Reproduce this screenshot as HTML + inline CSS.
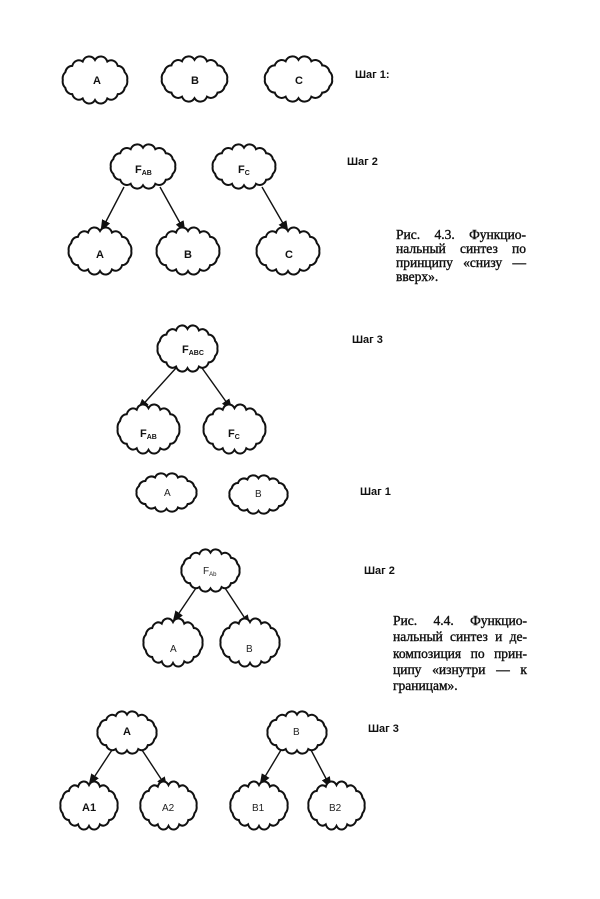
<!DOCTYPE html>
<html><head><meta charset="utf-8"><style>
html,body{margin:0;padding:0;background:#fff;}
svg{display:block;position:absolute;left:0;top:0;}
.l{font-family:"Liberation Sans",sans-serif;font-weight:bold;font-size:11px;fill:#111;}
.s{font-family:"Liberation Sans",sans-serif;font-size:10px;fill:#222;}
.st{font-family:"Liberation Sans",sans-serif;font-weight:bold;font-size:11px;fill:#111;}
.cap{position:absolute;font-family:"Liberation Serif","DejaVu Serif",serif;font-size:13.5px;color:#111;text-align:justify;text-align-last:left;-webkit-text-stroke:0.4px #111;}
</style></head><body>
<svg width="600" height="899" viewBox="0 0 600 899" xmlns="http://www.w3.org/2000/svg">
<defs>
<symbol id="cl" viewBox="0 0 100 60" preserveAspectRatio="none" overflow="visible">
<path d="M96,30 A10,10 0 0 1 92.5,39.6 A10,10 0 0 1 82.5,47.7 A10,10 0 0 1 67.6,53.1 A10,10 0 0 1 50,55 A10,10 0 0 1 32.4,53.1 A10,10 0 0 1 17.5,47.7 A10,10 0 0 1 7.5,39.6 A10,10 0 0 1 4,30 A10,10 0 0 1 7.5,20.4 A10,10 0 0 1 17.5,12.3 A10,10 0 0 1 32.4,6.9 A10,10 0 0 1 50,5 A10,10 0 0 1 67.6,6.9 A10,10 0 0 1 82.5,12.3 A10,10 0 0 1 92.5,20.4 A10,10 0 0 1 96,30 Z" fill="#fff" stroke="#111" stroke-width="2" vector-effect="non-scaling-stroke"/>
</symbol>
<marker id="ar" markerWidth="12" markerHeight="9" refX="11" refY="4.5" orient="auto" markerUnits="userSpaceOnUse">
<path d="M0,0 L12,4.5 L0,9 Z" fill="#111"/>
</marker>
</defs>
<g stroke="#111" stroke-width="1.4" marker-end="url(#ar)">
<line x1="124" y1="187" x2="101" y2="231"/>
<line x1="160" y1="187" x2="185" y2="232"/>
<line x1="262" y1="187" x2="288" y2="232"/>
<line x1="176" y1="368" x2="138" y2="410"/>
<line x1="202" y1="368" x2="232" y2="410"/>
<line x1="196" y1="588" x2="173" y2="622"/>
<line x1="225" y1="588" x2="250" y2="626"/>
<line x1="112" y1="750" x2="89" y2="785"/>
<line x1="142" y1="750" x2="167" y2="788"/>
<line x1="281" y1="750" x2="260" y2="785"/>
<line x1="311" y1="750" x2="331" y2="788"/>
</g>
<use href="#cl" x="60" y="56" width="70" height="48"/>
<use href="#cl" x="159" y="56" width="71" height="46"/>
<use href="#cl" x="262" y="56" width="73" height="46"/>
<text class="l" x="93" y="84">A</text>
<text class="l" x="191" y="84">B</text>
<text class="l" x="295" y="84">C</text>
<text class="st" x="355" y="78">Шаг 1:</text>
<use href="#cl" x="108" y="144" width="70" height="45"/>
<use href="#cl" x="210" y="144" width="68" height="45"/>
<text class="l" x="135" y="173">F<tspan font-size="7" dy="2">AB</tspan></text>
<text class="l" x="238" y="173">F<tspan font-size="7" dy="2">C</tspan></text>
<use href="#cl" x="66" y="227" width="68" height="48"/>
<use href="#cl" x="154" y="227" width="68" height="48"/>
<use href="#cl" x="254" y="227" width="68" height="48"/>
<text class="l" x="96" y="258">A</text>
<text class="l" x="184" y="258">B</text>
<text class="l" x="285" y="258">C</text>
<text class="st" x="347" y="165">Шаг 2</text>
<use href="#cl" x="155" y="325" width="65" height="47"/>
<text class="l" x="182" y="353">F<tspan font-size="7" dy="2">ABC</tspan></text>
<use href="#cl" x="115" y="404" width="67" height="50"/>
<use href="#cl" x="201" y="404" width="67" height="50"/>
<text class="l" x="140" y="437">F<tspan font-size="7" dy="2">AB</tspan></text>
<text class="l" x="228" y="437">F<tspan font-size="7" dy="2">C</tspan></text>
<text class="st" x="352" y="343">Шаг 3</text>
<use href="#cl" x="134" y="473" width="65" height="39"/>
<use href="#cl" x="227" y="475" width="63" height="39"/>
<text class="s" x="164" y="496">A</text>
<text class="s" x="255" y="497">B</text>
<text class="st" x="360" y="495">Шаг 1</text>
<use href="#cl" x="179" y="549" width="63" height="43"/>
<text class="s" x="203" y="574" font-size="9">F<tspan font-size="6" dy="2">Ab</tspan></text>
<use href="#cl" x="141" y="618" width="64" height="49"/>
<use href="#cl" x="218" y="618" width="64" height="49"/>
<text class="s" x="170" y="652">A</text>
<text class="s" x="246" y="652">B</text>
<text class="st" x="364" y="574">Шаг 2</text>
<use href="#cl" x="95" y="711" width="64" height="43"/>
<use href="#cl" x="265" y="711" width="64" height="43"/>
<text class="l" x="123" y="735">A</text>
<text class="s" x="293" y="735">B</text>
<use href="#cl" x="58" y="781" width="62" height="49"/>
<use href="#cl" x="138" y="781" width="61" height="49"/>
<use href="#cl" x="228" y="781" width="62" height="49"/>
<use href="#cl" x="306" y="781" width="61" height="49"/>
<text class="l" x="82" y="811">A1</text>
<text class="s" x="162" y="811">A2</text>
<text class="s" x="252" y="811">B1</text>
<text class="s" x="329" y="811">B2</text>
<text class="st" x="368" y="732">Шаг 3</text>
</svg>
<div class="cap" style="left:396px;top:228px;width:130px;line-height:14px;">Рис. 4.3. Функцио­нальный синтез по принципу «снизу — вверх».</div>
<div class="cap" style="left:393px;top:613px;width:134px;line-height:16.3px;">Рис. 4.4. Функцио­нальный синтез и де­композиция по прин­ципу «изнутри — к границам».</div>
</body></html>
